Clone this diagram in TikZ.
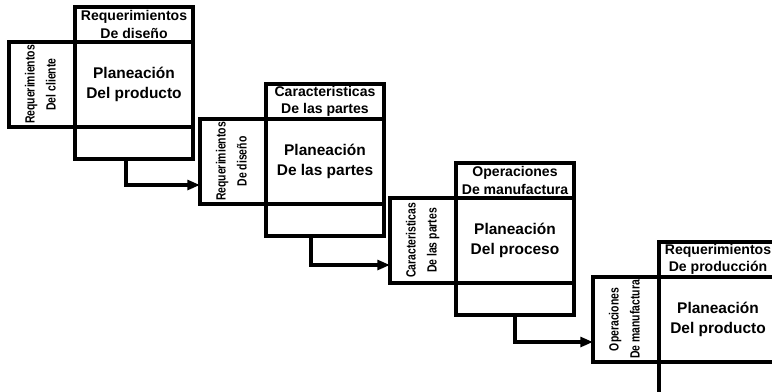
\documentclass[tikz,border=0pt]{standalone}
\usepackage{fontspec}
\setmainfont{Liberation Sans}
\usepackage{graphicx}
\usetikzlibrary{arrows.meta}
\usetikzlibrary{positioning}
\newcommand{\sidetext}[2]{\rotatebox{90}{\scalebox{0.78}[1]{\begin{tabular}{@{}c@{}}#1\\[4pt]#2\end{tabular}}}}

\begin{document}
\begin{tikzpicture}[x=0.025cm,y=-0.025cm]
	\useasboundingbox (0,0) rectangle (772,392);
	\clip (0,0) rectangle (772,392);
	\begin{scope}[line width=2.2pt,
	              every node/.style={draw, inner sep=0pt, outer sep=0pt, align=center},
	              hdr/.style={minimum width=2.95cm, minimum height=0.875cm, anchor=south west,
	                          font=\fontsize{10}{12.5}\selectfont\bfseries},
	              plan/.style={minimum width=2.95cm, minimum height=2.125cm, anchor=north west,
	                          font=\fontsize{11}{14}\selectfont\bfseries},
	              side/.style={minimum width=1.65cm, minimum height=2.125cm, anchor=north east,
	                          font=\fontsize{9.5}{11}\selectfont\bfseries},
	              foot/.style={minimum width=2.95cm, minimum height=0.8cm}]
		\node[plan] (p1) at (75,42) {Planeación\\Del producto};
		\node[hdr]  (h1) at (75,42) {Requerimientos\\De diseño};
		\node[side] (s1) at (75,42) {\sidetext{Requerimientos}{Del cliente}};
		\node[foot, below=0pt of p1] (f1) {};

		\node[plan] (p2) at (266,119) {Planeación\\De las partes};
		\node[hdr]  (h2) at (266,119) {Caracteristicas\\De las partes};
		\node[side] (s2) at (266,119) {\sidetext{Requerimientos}{De diseño}};
		\node[foot, below=0pt of p2] (f2) {};

		\node[plan] (p3) at (456,198) {Planeación\\Del proceso};
		\node[hdr]  (h3) at (456,198) {Operaciones\\De manufactura};
		\node[side] (s3) at (456,198) {\sidetext{Caracteristicas}{De las partes}};
		\node[foot, below=0pt of p3] (f3) {};

		\node[plan] (p4) at (659,277) {Planeación\\Del producto};
		\node[hdr]  (h4) at (659,277) {Requerimientos\\De producción};
		\node[side] (s4) at (659,277) {\sidetext{Operaciones}{De manufactura}};
		\node[foot, below=0pt of p4] (f4) {};
	\end{scope}
	\begin{scope}[line width=2.2pt, >={Triangle[length=9pt,width=7pt]}]
		\draw[->] ([xshift=-0.2cm]f1.south) |- ([yshift=0.475cm]s2.south west);
		\draw[->] ([xshift=-0.35cm]f2.south) |- ([yshift=0.45cm]s3.south west);
		\draw[->] (f3.south) |- ([yshift=0.5cm]s4.south west);
	\end{scope}
\end{tikzpicture}
\end{document}
